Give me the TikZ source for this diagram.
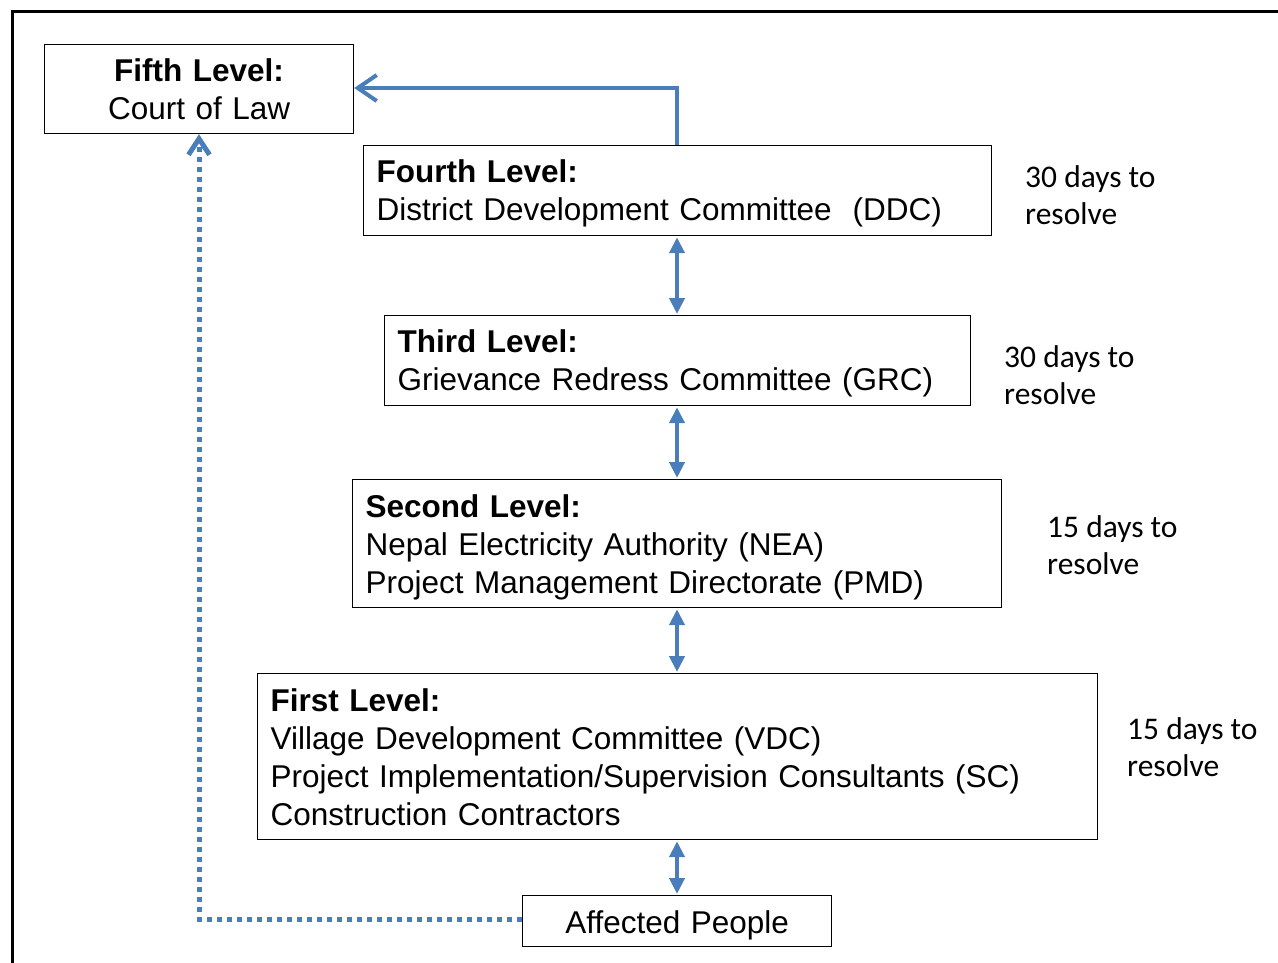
\documentclass[tikz,border=0pt]{standalone}
\usepackage{fontspec}
\setmainfont{Liberation Sans}
\newfontfamily\calib{Carlito}
\usetikzlibrary{arrows.meta}
\definecolor{lnblue}{HTML}{4A7EBB}
\tikzset{
  levelbox/.style={draw=black, line width=1.2pt, fill=white, rectangle, inner xsep=13pt, inner ysep=0pt,
    align=left, font=\fontsize{31.5}{38}\selectfont, anchor=north west},
  lowered/.style={execute at begin node={\rule{0pt}{#1}}},
  daysnote/.style={anchor=north west, align=left, inner sep=0pt, font=\calib\fontsize{31.5}{37.5}\selectfont},
  bilink/.style={draw=lnblue, line width=4pt, {Triangle[width=15pt,length=16pt]}-{Triangle[width=15pt,length=16pt]}, shorten <=1pt, shorten >=1pt},
  uplink/.style={draw=lnblue, line width=4pt, -{Straight Barb[width=26pt,length=19pt,line width=4pt]}},
  dotlink/.style={draw=lnblue, line width=5pt, dash pattern=on 5pt off 5pt, -{Straight Barb[width=21pt,length=16pt,line width=5pt]}}
}
\begin{document}
\begin{tikzpicture}[x=1pt,y=-1pt]
\useasboundingbox (0,0) rectangle (1278,962);
\draw[line width=3pt] (12.5,1000) -- (12.5,11.5) -- (1300,11.5);

\node[levelbox, minimum width=309pt, minimum height=89pt, align=center, text width=283pt] (fifth) at (44,44)
  {\textbf{Fifth Level:}\\Court of Law};
\node[levelbox, lowered=29pt, minimum height=90pt, text width=602pt] (fourth) at (363,145)
  {\textbf{Fourth Level:}\\District Development Committee\ \ (DDC)};
\node[levelbox, lowered=29pt, minimum height=90pt, text width=560pt] (third) at (384,315)
  {\textbf{Third Level:}\\Grievance Redress Committee (GRC)};
\node[levelbox, lowered=30pt, minimum height=128pt, text width=623pt] (second) at (352,479)
  {\textbf{Second Level:}\\Nepal Electricity Authority (NEA)\\Project Management Directorate (PMD)};
\node[levelbox, lowered=25pt, minimum height=166pt, text width=814pt] (first) at (257,673)
  {\textbf{First Level:}\\Village Development Committee (VDC)\\Project Implementation/Supervision Consultants (SC)\\Construction Contractors};
\node[levelbox, lowered=31pt, minimum width=309pt, minimum height=51pt, align=center, text width=283pt] (people) at (522,895)
  {Affected People};

\node[daysnote] (d4) at (1025,165) {30 days to\\resolve};
\node[daysnote] (d3) at (1004,345) {30 days to\\resolve};
\node[daysnote] (d2) at (1047,515) {15 days to\\resolve};
\node[daysnote] (d1) at (1127,717) {15 days to\\resolve};

\coordinate (turn) at (677,88);
\coordinate (dotturn) at (199,919);
\draw[uplink] (fourth.north -| turn) -- (turn) -- (turn -| fifth.east);
\draw[bilink] (fourth.south -| turn) -- (third.north -| turn);
\draw[bilink] (third.south -| turn) -- (second.north -| turn);
\draw[bilink] (second.south -| turn) -- (first.north -| turn);
\draw[bilink] (first.south -| turn) -- (people.north -| turn);
\draw[dotlink] (people.west |- dotturn) -- (dotturn) -- (dotturn |- fifth.south);
\end{tikzpicture}
\end{document}
